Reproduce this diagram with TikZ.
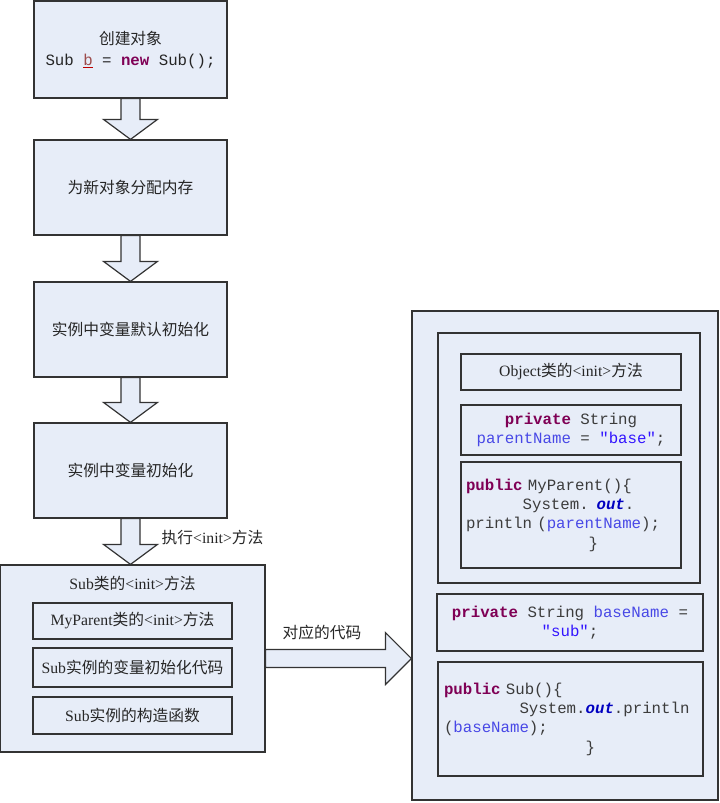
\documentclass[tikz,border=0pt]{standalone}
\usepackage{fontspec}
\setmainfont{Liberation Serif}
\setmonofont{Liberation Mono}
\newfontfamily\cjk{Noto Sans CJK SC}
\usetikzlibrary{calc}

\definecolor{boxfill}{RGB}{231,237,248}
\definecolor{kwcolor}{RGB}{127,0,85}
\definecolor{fieldcolor}{RGB}{72,72,230}
\definecolor{strcolor}{RGB}{50,20,255}
\definecolor{outcolor}{RGB}{0,0,192}
\definecolor{codegray}{RGB}{60,60,60}

\newcommand{\px}{0.75pt}
\newcommand{\zh}[1]{{\cjk #1}}
\newcommand{\kw}[1]{\textcolor{kwcolor}{\textbf{#1}}}
\newcommand{\fld}[1]{\textcolor{fieldcolor}{#1}}
\newcommand{\jstr}[1]{\textcolor{strcolor}{#1}}
\newcommand{\outfld}{\textcolor{outcolor}{\textbf{\textit{out}}}}
\newcommand{\ind}[1]{\hspace*{#1\fontcharwd\font`0}}

% block arrow pointing down from one box to the next
\newcommand{\blockdown}[2]{%
  \draw[blockarrow] ($(#1.south)+(-9.5,0)$) -- ($(#1.south)+(9.5,0)$)
    -- ($(#1.south |- #2.north)+(9.5,-20)$) -- ($(#1.south |- #2.north)+(27,-20)$)
    -- (#1.south |- #2.north)
    -- ($(#1.south |- #2.north)+(-27,-20)$) -- ($(#1.south |- #2.north)+(-9.5,-20)$)
    -- cycle;}

\begin{document}
\begin{tikzpicture}[x=\px,y=-\px,
  box/.style={draw=black!80,fill=boxfill,line width=0.9pt,inner sep=0pt,align=center,
    text=black!85,font=\fontsize{11.8}{15.75}\selectfont},
  codebox/.style={box,text=codegray,font=\ttfamily\fontsize{11.8}{14.5}\selectfont},
  blockarrow/.style={draw=black!80,fill=boxfill,line width=0.9pt,line join=miter},
  label/.style={text=black!85,font=\fontsize{11.8}{15}\selectfont}]

  \useasboundingbox (0,0) rectangle (719,803);

  % left column
  \node[box,minimum width=193*\px,minimum height=97*\px] (create) at (130.5,49.5)
    {\zh{创建对象}\\ \texttt{Sub {\color{red!75!black}\underline{\color{black!55!red!70}b}} = \kw{new} Sub();}};
  \node[box,minimum width=193*\px,minimum height=95*\px] (alloc) at (130.5,187.5)
    {\zh{为新对象分配内存}};
  \node[box,minimum width=193*\px,minimum height=95*\px] (defaultinit) at (130.5,329.5)
    {\zh{实例中变量默认初始化}};
  \node[box,minimum width=193*\px,minimum height=95*\px] (varinit) at (130.5,470.5)
    {\zh{实例中变量初始化}};

  \node[box,minimum width=265*\px,minimum height=187*\px] (sub) at (132.5,658.5) {};
  \node[label] (subtitle) at (132.5,583) {Sub\zh{类的}<init>\zh{方法}};
  \node[box,minimum width=199*\px,minimum height=36*\px] (parentinit) at (132.5,621)
    {MyParent\zh{类的}<init>\zh{方法}};
  \node[box,minimum width=199*\px,minimum height=39*\px] (subvars) at (132.5,667.5)
    {Sub\zh{实例的变量初始化代码}};
  \node[box,minimum width=199*\px,minimum height=37*\px] (subctor) at (132.5,715.5)
    {Sub\zh{实例的构造函数}};

  % right column: the matching code
  \node[box,minimum width=306*\px,minimum height=489*\px] (code) at (565,555.5) {};
  \node[box,minimum width=262*\px,minimum height=250*\px] (parent) at (569,458) {};
  \node[box,minimum width=220*\px,minimum height=36*\px] (objinit) at (571,372)
    {Object\zh{类的}<init>\zh{方法}};
  \node[codebox,minimum width=220*\px,minimum height=50*\px] (parentfield) at (571,430)
    {\kw{private} String\\ \fld{parentName} = \jstr{"base"};};
  \node[codebox,minimum width=220*\px,minimum height=106*\px,text width=210*\px,align=left]
    (parentctor) at (571,515)
    {\kw{public} MyParent()\{\\ \ind{6}System. \outfld.\\ println (\fld{parentName});\\ \ind{13}\}};
  \node[codebox,minimum width=266*\px,minimum height=57*\px] (subfield) at (570,622.5)
    {\kw{private} String \fld{baseName} =\\ \jstr{"sub"};};
  \node[codebox,minimum width=265*\px,minimum height=114*\px,text width=253*\px,align=left]
    (subcode) at (570.5,719)
    {\kw{public} Sub()\{\\ \ind{8}System.\outfld.println\\ (\fld{baseName});\\ \ind{15}\}};

  % arrows
  \blockdown{create}{alloc}
  \blockdown{alloc}{defaultinit}
  \blockdown{defaultinit}{varinit}
  \blockdown{varinit}{sub}
  \node[label,anchor=west] (runinit) at (157,537) {\zh{执行}<init>\zh{方法}};

  \coordinate (tip) at (code.west |- sub.east);
  \draw[blockarrow] ($(sub.east)+(0,-9)$) -- ($(tip)+(-26,-9)$) -- ($(tip)+(-26,-26)$)
    -- (tip) -- ($(tip)+(-26,26)$) -- ($(tip)+(-26,9)$) -- ($(sub.east)+(0,9)$) -- cycle;
  \node[label] (maps) at (322,633) {\zh{对应的代码}};
\end{tikzpicture}
\end{document}
